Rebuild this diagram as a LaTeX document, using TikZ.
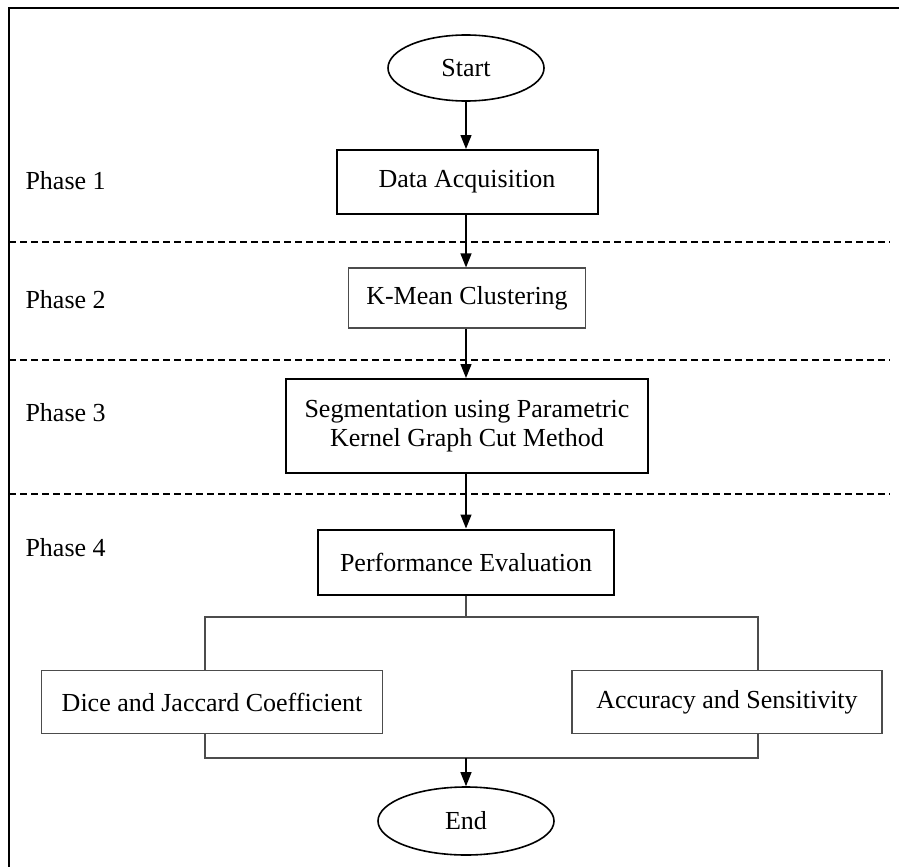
\documentclass[tikz,border=0pt]{standalone}
\usepackage{fontspec}
\setmainfont{Liberation Serif}
\usetikzlibrary{shapes.geometric,arrows.meta}
\begin{document}
\begin{tikzpicture}[x=1pt,y=-1pt,
  font=\fontsize{26}{29}\selectfont,
  terminal/.style={draw,ellipse,line width=1.6pt,minimum width=156pt,minimum height=66pt,inner sep=0pt},
  stepbold/.style={draw,line width=2pt,inner sep=0pt,align=center},
  steplight/.style={draw=black!70,line width=1.2pt,inner sep=0pt,align=center},
  flow/.style={line width=1.2pt,-{Triangle[width=11pt,length=14pt]}},
  link/.style={draw=black!70,line width=1.2pt},
  phasesep/.style={line width=1.3pt,dash pattern=on 7pt off 4pt}]
      \useasboundingbox (0,0) rectangle (899,867);
      \draw[line width=2.5pt] (899,8) -- (9,8) -- (9,867);
      % phases
      \node[anchor=west] (ph1) at (22,181) {Phase 1};
      \node[anchor=west] (ph2) at (22,300) {Phase 2};
      \node[anchor=west] (ph3) at (22,413) {Phase 3};
      \node[anchor=west] (ph4) at (22,548) {Phase 4};
      \draw[phasesep] (9,242) -- (890,242);
      \draw[phasesep] (9,360) -- (890,360);
      \draw[phasesep] (9,494) -- (890,494);
      % main column
      \node[terminal] (start) at (466,68) {Start};
      \node[stepbold,minimum width=261pt,minimum height=64pt] (acq) at (467,182) {Data Acquisition};
      \node[steplight,minimum width=237pt,minimum height=60pt] (kmean) at (467,298) {K-Mean Clustering};
      \node[stepbold,minimum width=362pt,minimum height=94pt] (seg) at (467,426) {Segmentation using Parametric\\Kernel Graph Cut Method};
      \node[stepbold,minimum width=296pt,minimum height=65pt] (perf) at (466,562) {Performance Evaluation};
      \node[steplight,minimum width=341pt,minimum height=63pt] (dice) at (212,702) {Dice and Jaccard Coefficient};
      \node[steplight,minimum width=310pt,minimum height=63pt] (acc) at (727,702) {Accuracy and Sensitivity};
      \node[terminal,minimum width=176pt,minimum height=68pt] (end) at (466,821) {End};
      \draw[flow] (start) -- (start |- acq.north);
      \draw[flow] (start |- acq.south) -- (start |- kmean.north);
      \draw[flow] (start |- kmean.south) -- (start |- seg.north);
      \draw[flow] (start |- seg.south) -- (start |- perf.north);
      % split and join
      \coordinate (fork) at (466,617);
      \coordinate (forkL) at (205,617);
      \coordinate (forkR) at (758,617);
      \coordinate (join) at (466,758);
      \coordinate (joinL) at (205,758);
      \coordinate (joinR) at (758,758);
      \draw[link] (perf.south) -- (fork);
      \draw[link] (forkL |- dice.north) -- (forkL) -- (forkR) -- (forkR |- acc.north);
      \draw[link] (joinL |- dice.south) -- (joinL) -- (joinR) -- (joinR |- acc.south);
      \draw[flow] (join) -- (end);
    \end{tikzpicture}
\end{document}
